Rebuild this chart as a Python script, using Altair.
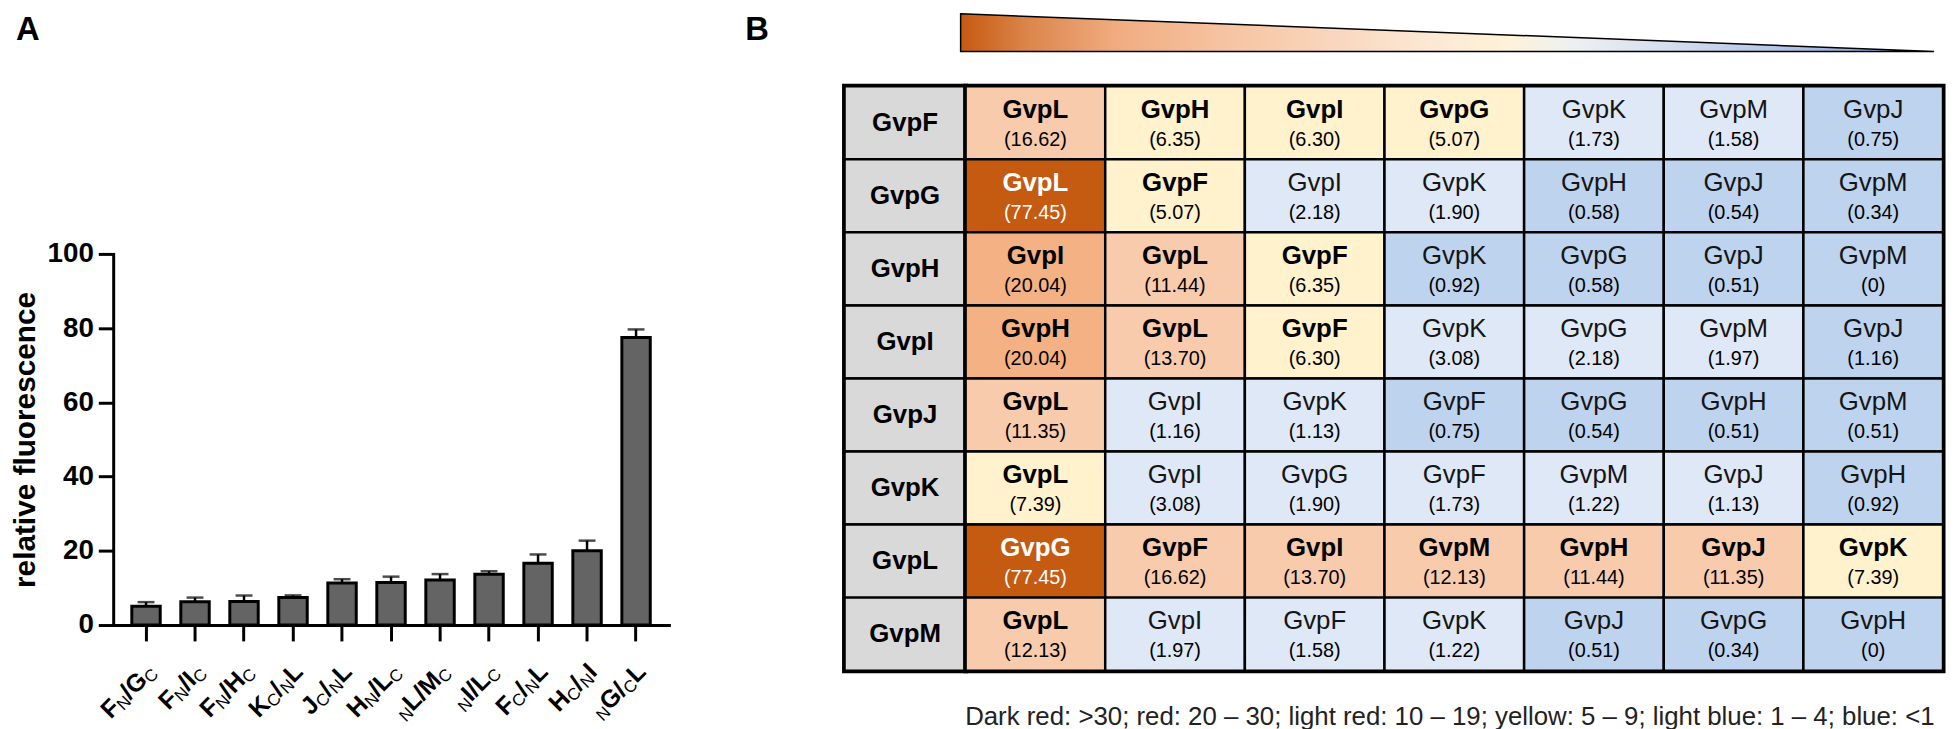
import altair as alt
import pandas as pd

FONT = "Liberation Sans"

# ---------------- Panel A data ----------------
# "_" marks the next letter as a subscript
bar_keys = ["F_N/G_C", "F_N/I_C", "F_N/H_C", "K_C/_NL", "J_C/_NL", "H_N/L_C",
            "_NL/M_C", "_NI/L_C", "F_C/_NL", "H_C/_NI", "_NG/_CL"]
bar_means = [5.07, 6.30, 6.35, 7.39, 11.35, 11.44, 12.13, 13.70, 16.62, 20.04, 77.45]
bar_sd = [1.1, 1.1, 1.6, 0.6, 1.0, 1.6, 1.6, 0.8, 2.4, 2.7, 2.2]
y_ticks = [0, 20, 40, 60, 80, 100]
y_title = "relative fluorescence"

# ---------------- Panel B data ----------------
baits = ["GvpF", "GvpG", "GvpH", "GvpI", "GvpJ", "GvpK", "GvpL", "GvpM"]
partners = [
    ["GvpL", "GvpH", "GvpI", "GvpG", "GvpK", "GvpM", "GvpJ"],
    ["GvpL", "GvpF", "GvpI", "GvpK", "GvpH", "GvpJ", "GvpM"],
    ["GvpI", "GvpL", "GvpF", "GvpK", "GvpG", "GvpJ", "GvpM"],
    ["GvpH", "GvpL", "GvpF", "GvpK", "GvpG", "GvpM", "GvpJ"],
    ["GvpL", "GvpI", "GvpK", "GvpF", "GvpG", "GvpH", "GvpM"],
    ["GvpL", "GvpI", "GvpG", "GvpF", "GvpM", "GvpJ", "GvpH"],
    ["GvpG", "GvpF", "GvpI", "GvpM", "GvpH", "GvpJ", "GvpK"],
    ["GvpL", "GvpI", "GvpF", "GvpK", "GvpJ", "GvpG", "GvpH"],
]
scores = [
    [16.62, 6.35, 6.30, 5.07, 1.73, 1.58, 0.75],
    [77.45, 5.07, 2.18, 1.90, 0.58, 0.54, 0.34],
    [20.04, 11.44, 6.35, 0.92, 0.58, 0.51, 0],
    [20.04, 13.70, 6.30, 3.08, 2.18, 1.97, 1.16],
    [11.35, 1.16, 1.13, 0.75, 0.54, 0.51, 0.51],
    [7.39, 3.08, 1.90, 1.73, 1.22, 1.13, 0.92],
    [77.45, 16.62, 13.70, 12.13, 11.44, 11.35, 7.39],
    [12.13, 1.97, 1.58, 1.22, 0.51, 0.34, 0],
]
classes = [
    ["light red", "yellow", "yellow", "yellow", "light blue", "light blue", "blue"],
    ["dark red", "yellow", "light blue", "light blue", "blue", "blue", "blue"],
    ["red", "light red", "yellow", "blue", "blue", "blue", "blue"],
    ["red", "light red", "yellow", "light blue", "light blue", "light blue", "blue"],
    ["light red", "light blue", "light blue", "blue", "blue", "blue", "blue"],
    ["yellow", "light blue", "light blue", "light blue", "light blue", "light blue", "blue"],
    ["dark red", "light red", "light red", "light red", "light red", "light red", "yellow"],
    ["light red", "light blue", "light blue", "light blue", "blue", "blue", "blue"],
]
class_names = ["dark red", "red", "light red", "yellow", "light blue", "blue"]
class_colors = ["#C55A11", "#F4B183", "#F8CBAD", "#FFF2CC", "#DEE8F6", "#BDD3EE"]
strong_classes = ["dark red", "red", "light red", "yellow"]
header_color = "#D9D9D9"

ramp_pos = [0.0, 1.0]
ramp_level = [1.0, 0.0]
ramp_offsets = [0.0, 0.07, 0.16, 0.27, 0.38, 0.48, 0.56, 0.63, 0.73, 0.85, 0.94, 1.0]
ramp_colors = ["#C55A11", "#DC864C", "#F0AC80", "#F6C3A1", "#F9D6BC", "#FCE8D4",
               "#FFF2D8", "#EDF0F2", "#D3DEEF", "#AFC3E7", "#92ACDD", "#7F9DD6"]
legend_text = ("Dark red: >30; red: 20 \u2013 30; light red: 10 \u2013 19; "
               "yellow: 5 \u2013 9; light blue: 1 \u2013 4; blue: <1")

# ---------------- tables ----------------
cats = [k.replace("_", "") for k in bar_keys]
dfA = pd.DataFrame({"cat": cats, "mean": bar_means, "sd": bar_sd})
dfA["top"] = dfA["mean"] + dfA["sd"]

# label segments (bold capitals + small regular subscripts), laid out right to left
MAIN, SUB = 25, 17
BOLD_W = {"F": 611, "G": 778, "H": 722, "I": 278, "J": 556, "K": 722,
          "L": 611, "M": 833, "/": 278}
REG_W = {"N": 722, "C": 722}
seg_rows = []
for key, cat in zip(bar_keys, cats):
    segs, sub = [], False
    for ch in key:
        if ch == "_":
            sub = True
            continue
        segs.append((ch, sub))
        sub = False
    off = 0.0
    for ch, s in reversed(segs):
        seg_rows.append({"cat": cat, "ch": ch, "sub": s, "dxp": -off})
        off += (REG_W[ch] * SUB if s else BOLD_W[ch] * MAIN) / 1000.0
dfSeg = pd.DataFrame(seg_rows)

cell_rows = []
for r, bait in enumerate(baits):
    for c in range(7):
        v = scores[r][c]
        cell_rows.append({
            "bait": bait, "col": c + 1, "partner": partners[r][c],
            "label": "(0)" if v == 0 else f"({v:.2f})",
            "cls": classes[r][c],
        })
dfCells = pd.DataFrame(cell_rows)
dfBaits = pd.DataFrame({"bait": baits, "h": ["h"] * len(baits)})

# ---------------- Panel A ----------------
WA, HA = 560, 374
x_sort = cats
x_enc = alt.X("cat:N", sort=x_sort, title=None,
              scale=alt.Scale(paddingInner=0.42, paddingOuter=0.38),
              axis=alt.Axis(labels=False, tickSize=16, tickWidth=3, tickColor="black",
                            domainColor="black", domainWidth=3, domainCap="square",
                            grid=False))
y_enc = alt.Y("mean:Q", scale=alt.Scale(domain=[0, 100], nice=False),
              axis=alt.Axis(values=y_ticks, tickSize=15, tickWidth=3, tickColor="black",
                            domainColor="black", domainWidth=3, domainCap="square",
                            labelFont=FONT, labelFontSize=28, labelFontWeight="bold",
                            labelColor="black", labelPadding=5, grid=False,
                            title=y_title, titleFont=FONT, titleFontSize=30,
                            titleFontWeight="bold", titleColor="black", titlePadding=7))
xs = alt.X("cat:N", sort=x_sort)

bars = alt.Chart(dfA).mark_bar(fill="#646464", stroke="black", strokeWidth=3).encode(
    x=x_enc, y=y_enc)
err = alt.Chart(dfA).mark_rule(color="black", strokeWidth=2.5).encode(
    x=xs, y="mean:Q", y2="top:Q")
cap = alt.Chart(dfA).mark_tick(color="black", thickness=2.5, size=17).encode(
    x=xs, y="top:Q")

lab_main = alt.Chart(dfSeg).transform_filter("!datum.sub").mark_text(
    font=FONT, fontSize=MAIN, fontWeight="bold", angle=315, align="right",
    baseline="middle", color="black", dx={"expr": "datum.dxp + 4"}, dy=4
).encode(x=xs, y=alt.value(HA + 43), text="ch:N")
lab_sub = alt.Chart(dfSeg).transform_filter("datum.sub").mark_text(
    font=FONT, fontSize=SUB, fontWeight="normal", angle=315, align="right",
    baseline="middle", color="black", dx={"expr": "datum.dxp + 4"}, dy=10
).encode(x=xs, y=alt.value(HA + 43), text="ch:N")

bar_chart = alt.layer(bars, err, cap, lab_main, lab_sub).properties(width=WA, height=HA)

# panel letters on a strip above the bar chart
tA = alt.Chart(pd.DataFrame({"t": ["A"]})).mark_text(
    font=FONT, fontSize=33, fontWeight="bold", align="left", baseline="top", color="black"
).encode(x=alt.value(-98), y=alt.value(0), text="t:N")
tB = alt.Chart(pd.DataFrame({"t": ["B"]})).mark_text(
    font=FONT, fontSize=33, fontWeight="bold", align="left", baseline="top", color="black"
).encode(x=alt.value(637), y=alt.value(0), text="t:N")
letters = alt.layer(tA, tB).properties(width=WA, height=37)

panelA = alt.vconcat(letters, bar_chart, spacing=191)

# ---------------- Panel B ----------------
WH, WC, HT = 122, 985, 589
band0 = alt.Scale(paddingInner=0, paddingOuter=0)
y_rows = alt.Y("bait:N", sort=baits, axis=None, scale=band0)

hbase = alt.Chart(dfBaits).encode(x=alt.X("h:N", axis=None, scale=band0), y=y_rows)
header = alt.layer(
    hbase.mark_rect(fill=header_color, stroke="black", strokeWidth=2.5),
    hbase.mark_text(font=FONT, fontSize=26, fontWeight="bold", color="black").encode(text="bait:N"),
).properties(width=WH, height=HT, view=alt.ViewBackground(stroke="black", strokeWidth=5))

cbase = alt.Chart(dfCells).encode(x=alt.X("col:O", axis=None, scale=band0), y=y_rows)
txt_color = alt.condition("datum.cls == 'dark red'", alt.value("white"), alt.value("black"))
strong = "indexof(%s, datum.cls) >= 0" % str(strong_classes)
cells = alt.layer(
    cbase.mark_rect(stroke="black", strokeWidth=2.5).encode(
        fill=alt.Fill("cls:N", scale=alt.Scale(domain=class_names, range=class_colors), legend=None)),
    cbase.transform_filter(strong).mark_text(font=FONT, fontSize=26, fontWeight="bold", dy=-13).encode(
        text="partner:N", color=txt_color),
    cbase.transform_filter("!(" + strong + ")").mark_text(font=FONT, fontSize=26, fontWeight="normal", dy=-13).encode(
        text="partner:N", color=alt.value("#151515")),
    cbase.mark_text(font=FONT, fontSize=20, dy=17).encode(text="label:N", color=txt_color),
).properties(width=WC, height=HT, view=alt.ViewBackground(stroke="black", strokeWidth=5))

grad = alt.LinearGradient(
    gradient="linear", x1=0, x2=1, y1=0, y2=0,
    stops=[alt.GradientStop(color=c, offset=o) for c, o in zip(ramp_colors, ramp_offsets)])
tri = alt.Chart(pd.DataFrame({"pos": ramp_pos, "level": ramp_level})).mark_area(
    fill=grad, stroke="black", strokeWidth=1.5, fillOpacity=1
).encode(
    x=alt.X("pos:Q", axis=None, scale=alt.Scale(domain=[0, 1], nice=False)),
    y=alt.Y("level:Q", axis=None, scale=alt.Scale(domain=[0, 1], nice=False)),
    y2=alt.datum(0),
).properties(width=981, height=38)

spacer = alt.Chart(pd.DataFrame({"t": [""]})).mark_text().encode(text="t:N").properties(width=117, height=38)

legend = alt.Chart(pd.DataFrame({"t": [legend_text]})).mark_text(
    font=FONT, fontSize=26, color="#222222", align="center", baseline="middle"
).encode(text="t:N", x=alt.value(610), y=alt.value(15)).properties(width=WH + WC, height=30)

tri_row = alt.hconcat(spacer, tri, spacing=0, bounds="flush")
table_row = alt.hconcat(header, cells, spacing=0, bounds="flush")
panelB = alt.vconcat(tri_row, table_row, legend, spacing=28)

chart = alt.hconcat(panelA, panelB, spacing=72).properties(
    padding={"left": 2, "top": 0, "right": 0, "bottom": 0}, background="white"
).configure_view(strokeWidth=0)

chart.save("out.html", embed_options={"renderer": "svg", "actions": False})
